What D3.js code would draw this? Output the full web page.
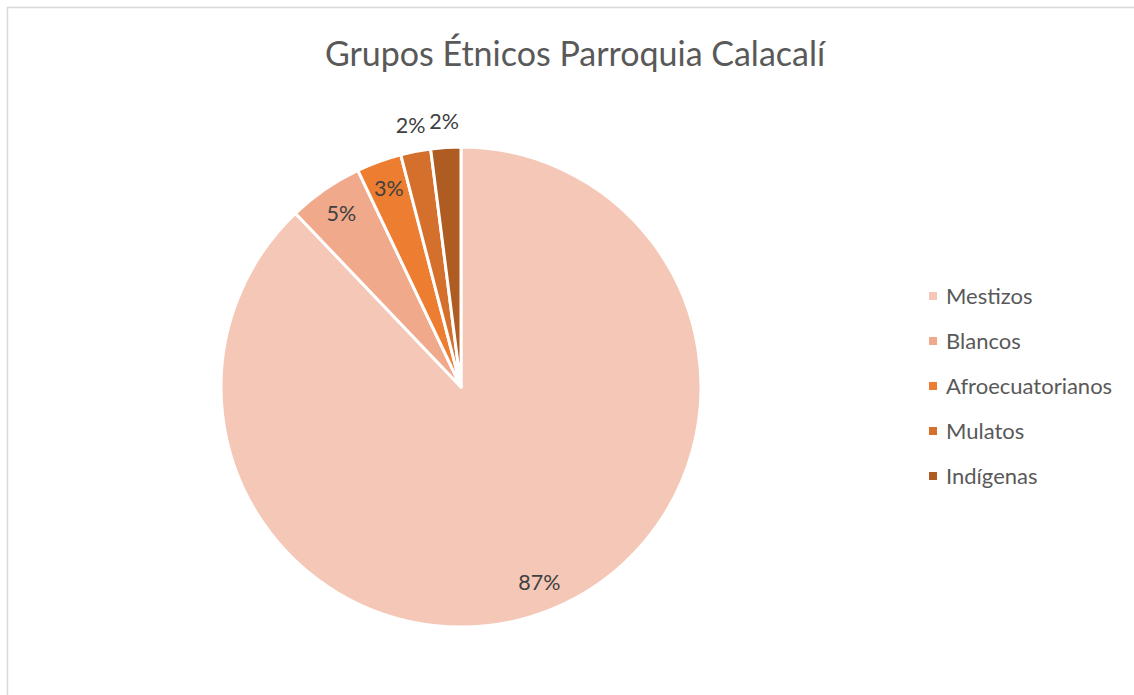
<!DOCTYPE html>
<html>
<head>
<meta charset="utf-8">
<script src="https://cdn.jsdelivr.net/npm/d3@7"></script>
<style>
  html, body { margin: 0; padding: 0; background: #ffffff; }
  svg { display: block; }
</style>
</head>
<body>
<svg id="chart" width="1134" height="695"></svg>
<script>
const title = "Grupos Étnicos Parroquia Calacalí";
const categories = ["Mestizos", "Blancos", "Afroecuatorianos", "Mulatos", "Indígenas"];
const values = [87, 5, 3, 2, 2];
const colors = ["#F4C7B6", "#F0A98A", "#ED7D31", "#D5702C", "#AF5C23"];
const outsideLabel = [false, false, false, true, true];

const svg = d3.select("#chart");
const W = 1134, H = 695;

svg.append("rect").attr("x", 7.5).attr("y", 7.5).attr("width", W + 10).attr("height", H + 10)
  .attr("fill", "#fff").attr("stroke", "#D9D9D9").attr("stroke-width", 1.5);

svg.append("text").attr("x", 575).attr("y", 66).attr("text-anchor", "middle")
  .attr("font-family", "Lato, 'Open Sans', sans-serif").attr("font-size", 34)
  .attr("fill", "#595959").text(title);

const cx = 461, cy = 387, R = 240;
const data = categories.map((c, i) => ({ name: c, value: values[i], color: colors[i], outside: outsideLabel[i] }));
const pie = d3.pie().sort(null).value(d => d.value);
const arcs = pie(data);
const arc = d3.arc().innerRadius(0).outerRadius(R);
const inLabelArc = d3.arc().innerRadius(211).outerRadius(211);
const outLabelArc = d3.arc().innerRadius(266).outerRadius(266);

const g = svg.append("g").attr("transform", `translate(${cx},${cy})`);
g.selectAll("path.slice").data(arcs).join("path")
  .attr("class", "slice")
  .attr("d", arc).attr("fill", d => d.data.color)
  .attr("stroke", "#ffffff").attr("stroke-width", 3).attr("stroke-linejoin", "round");

g.selectAll("text.lbl").data(arcs).join("text")
  .attr("class", "lbl")
  .attr("transform", d => `translate(${(d.data.outside ? outLabelArc : inLabelArc).centroid(d)})`)
  .attr("text-anchor", "middle").attr("dy", "0.35em")
  .attr("font-family", "Lato, 'Open Sans', sans-serif").attr("font-size", 21.5)
  .attr("fill", "#404040").text(d => d.data.value + "%");

const legend = svg.append("g").attr("transform", "translate(929,296)");
const rows = legend.selectAll("g").data(data).join("g")
  .attr("transform", (d, i) => `translate(0,${i * 45})`);
rows.append("rect").attr("x", 0).attr("y", -4).attr("width", 8).attr("height", 8).attr("fill", d => d.color);
rows.append("text").attr("x", 17).attr("y", 0).attr("dy", "0.35em")
  .attr("font-family", "Lato, 'Open Sans', sans-serif").attr("font-size", 22)
  .attr("fill", "#595959").text(d => d.name);
</script>
</body>
</html>
